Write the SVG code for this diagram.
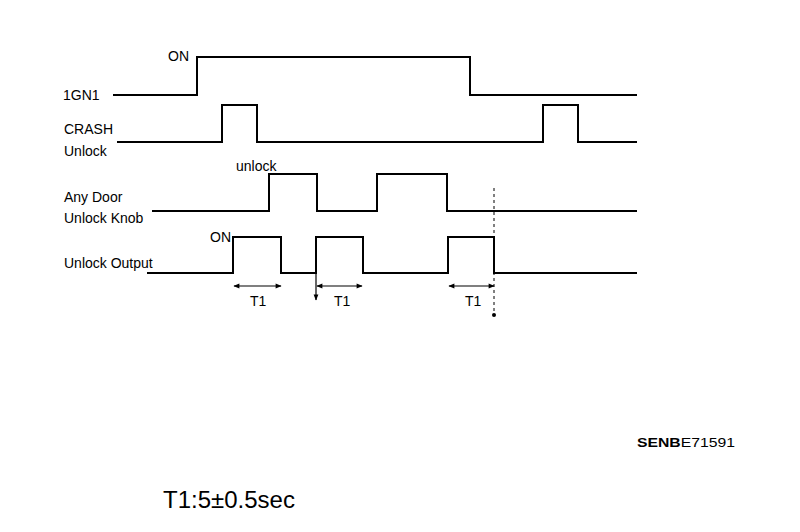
<svg xmlns="http://www.w3.org/2000/svg" width="800" height="532" viewBox="0 0 800 532">
<defs>
<style>
.lbl{font-family:"Liberation Sans",Arial,sans-serif;font-size:14px;fill:#000}
.sig{fill:none;stroke:#000;stroke-width:2;stroke-linejoin:miter}
.dim{fill:none;stroke:#000;stroke-width:1.2}
.dot{fill:none;stroke:#000;stroke-width:1;stroke-dasharray:3,3}
</style>
<marker id="ah" viewBox="0 0 10 10" refX="9" refY="5" markerWidth="7" markerHeight="6" orient="auto-start-reverse" markerUnits="userSpaceOnUse">
<path d="M0,1 L10,5 L0,9 Z" fill="#000"/>
</marker>
</defs>
<rect width="800" height="532" fill="#fff"/>
<g id="ign1">
<text class="lbl" x="63" y="100">1GN1</text>
<text class="lbl" x="168" y="61">ON</text>
<polyline class="sig" points="113,95 197,95 197,57 470,57 470,95 637,95"/>
</g>
<g id="crash">
<text class="lbl" x="64" y="134">CRASH</text>
<text class="lbl" x="64" y="156">Unlock</text>
<polyline class="sig" points="117,142 222,142 222,105 257,105 257,142 543,142 543,105 578,105 578,142 637,142"/>
</g>
<g id="door">
<text class="lbl" x="64" y="202">Any Door</text>
<text class="lbl" x="64" y="223">Unlock Knob</text>
<text class="lbl" x="236" y="171">unlock</text>
<polyline class="sig" points="152,211 269,211 269,174 317,174 317,211 377,211 377,174 447,174 447,211 637,211"/>
</g>
<g id="output">
<text class="lbl" x="64" y="268">Unlock Output</text>
<text class="lbl" x="210" y="242">ON</text>
<polyline class="sig" points="147,273 233,273 233,237 281,237 281,273 316,273 316,237 363,237 363,273 448,273 448,237 494,237 494,273 637,273"/>
</g>
<g id="connectors">
<line class="dim" x1="234" y1="286" x2="281" y2="286" marker-start="url(#ah)" marker-end="url(#ah)"/>
<line class="dim" x1="317" y1="286" x2="362" y2="286" marker-start="url(#ah)" marker-end="url(#ah)"/>
<line class="dim" x1="449" y1="286" x2="494" y2="286" marker-start="url(#ah)" marker-end="url(#ah)"/>
<line class="dim" x1="316" y1="273" x2="316" y2="300" marker-end="url(#ah)"/>
<line class="dot" x1="494" y1="188" x2="494" y2="313"/>
<circle cx="494" cy="315" r="2" fill="#000"/>
</g>
<g id="t1labels">
<text class="lbl" x="250" y="306" font-size="13">T1</text>
<text class="lbl" x="334" y="306" font-size="13">T1</text>
<text class="lbl" x="465" y="306" font-size="13">T1</text>
</g>
<text x="637" y="447" font-family="'Liberation Sans',Arial,sans-serif" font-size="13" textLength="98" lengthAdjust="spacingAndGlyphs"><tspan font-weight="bold">SENB</tspan>E71591</text>
<text x="163" y="508" font-family="'Liberation Sans',Arial,sans-serif" font-size="24">T1:5±0.5sec</text>
</svg>
